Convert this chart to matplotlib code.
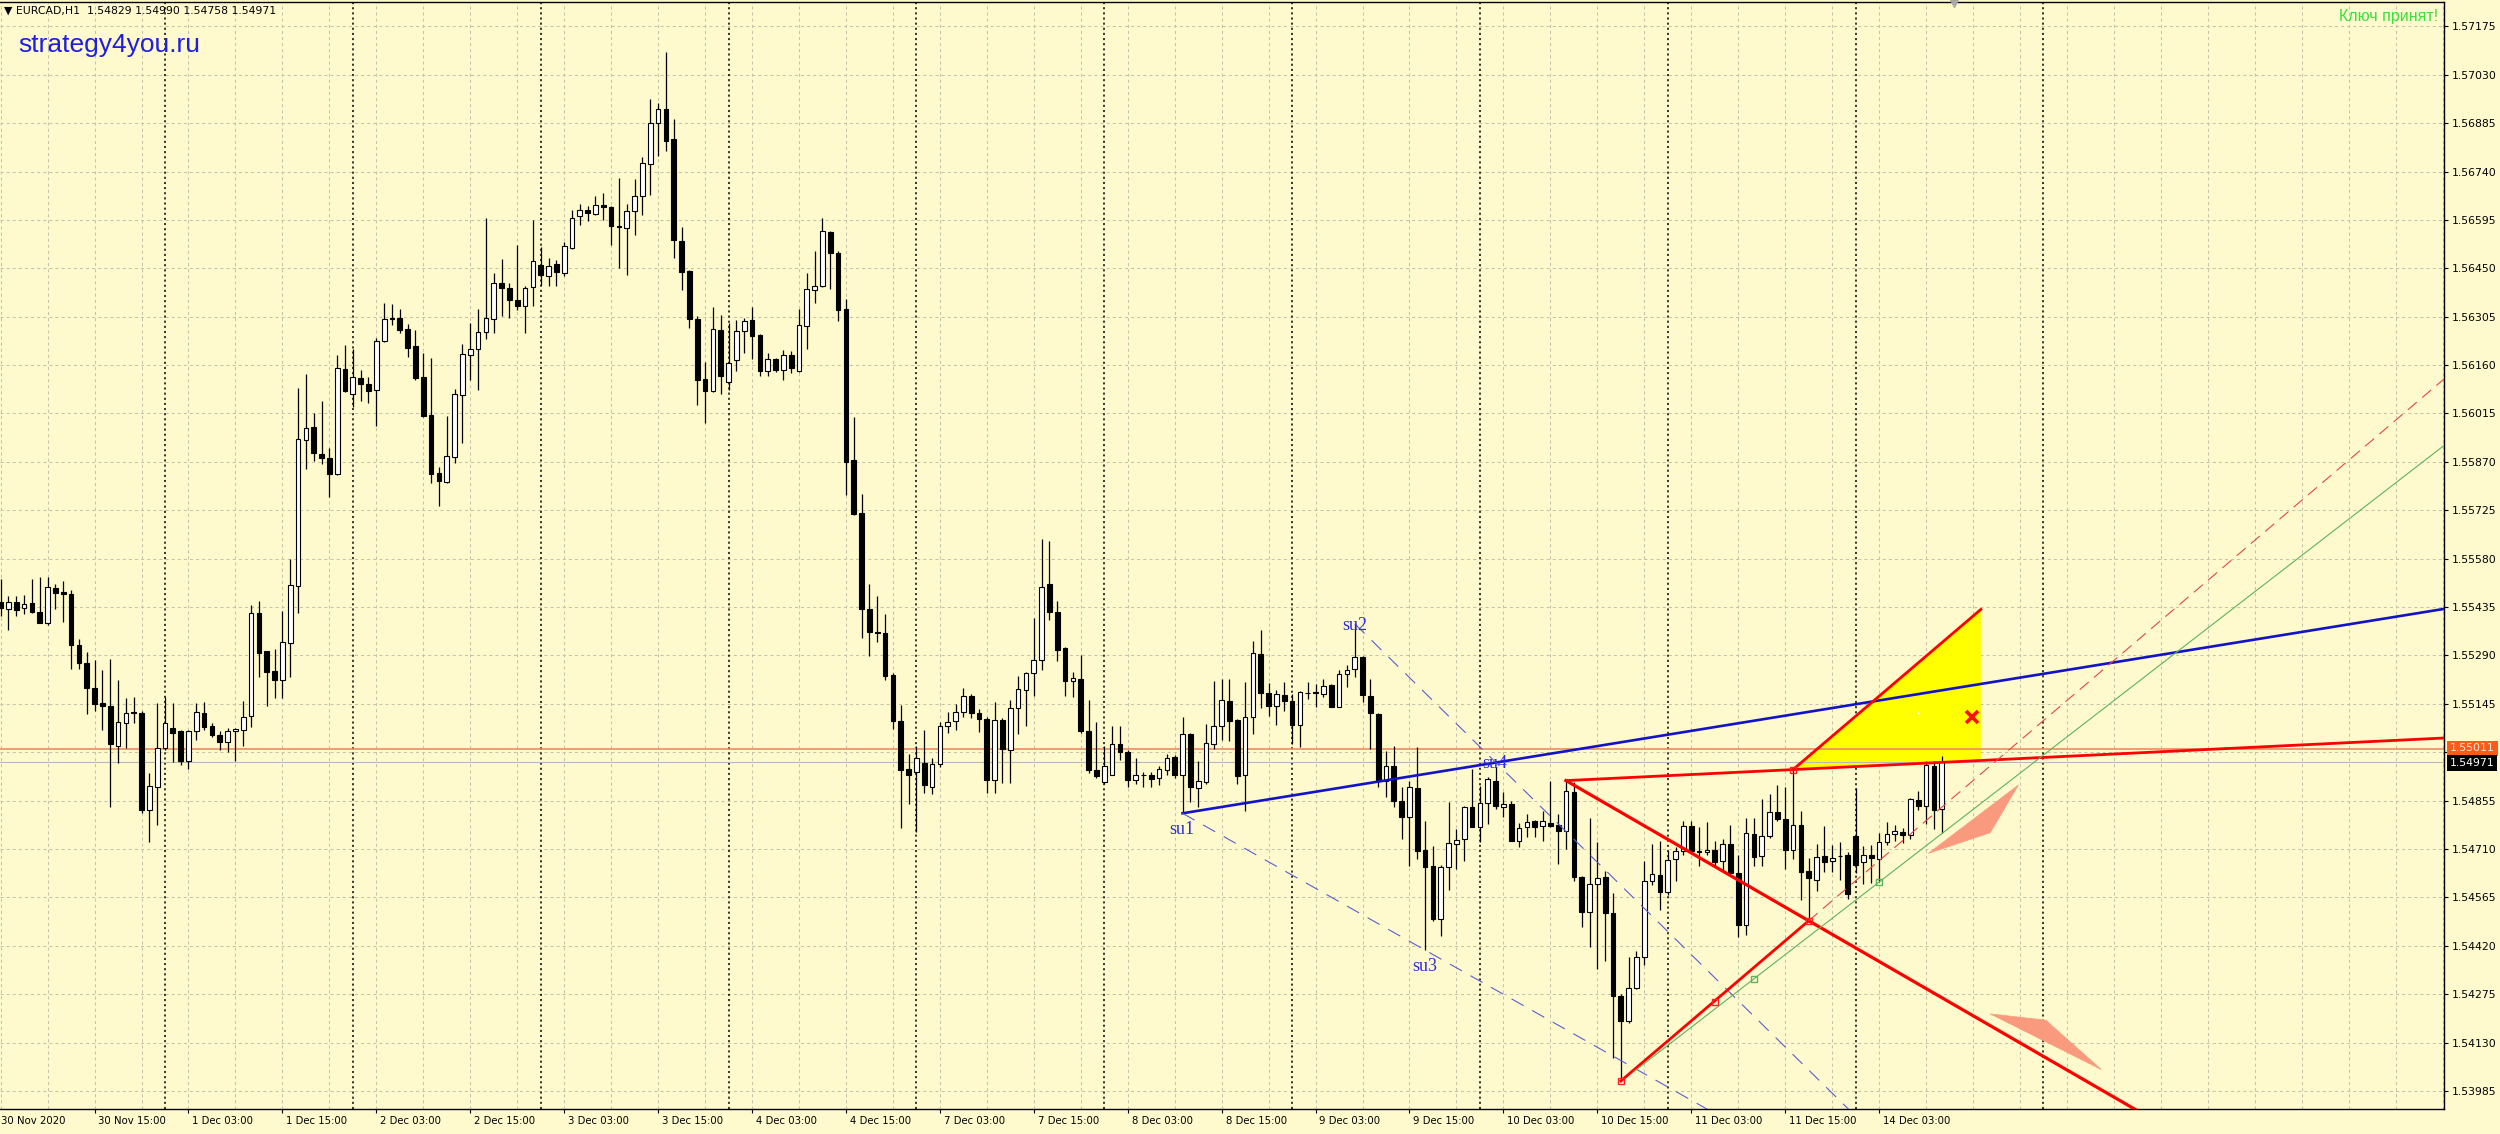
import numpy as np
import matplotlib
matplotlib.use("Agg")
import matplotlib.pyplot as plt
import matplotlib.transforms as mtransforms
from matplotlib.patches import Polygon

plt.rcParams['lines.scale_dashes'] = False

# EURCAD H1 - bar number = hours since 30 Nov 2020 00:00 (24 bars per trading day)
first_bar = 3

opens = [1.55449, 1.55429, 1.55450, 1.55433, 1.55446, 1.55421, 1.55388, 1.55491, 1.55480, 1.55474,
         1.55320, 1.55268, 1.55192, 1.55147, 1.55138, 1.55020, 1.55088, 1.55121, 1.55119, 1.54828,
         1.54896, 1.55012, 1.55074, 1.55063, 1.54975, 1.55063, 1.55119, 1.55080, 1.55051, 1.55031,
         1.55063, 1.55067, 1.55110, 1.55418, 1.55302, 1.55243, 1.55217, 1.55328, 1.55497, 1.55937,
         1.55976, 1.55895, 1.55882, 1.55833, 1.56149, 1.56072, 1.56120, 1.56103, 1.56084, 1.56233,
         1.56300, 1.56300, 1.56267, 1.56217, 1.56123, 1.56011, 1.55838, 1.55811, 1.55886, 1.56071,
         1.56191, 1.56208, 1.56259, 1.56298, 1.56406, 1.56391, 1.56354, 1.56336, 1.56394, 1.56459,
         1.56426, 1.56464, 1.56436, 1.56511, 1.56606, 1.56624, 1.56614, 1.56639, 1.56633, 1.56576,
         1.56571, 1.56621, 1.56668, 1.56764, 1.56886, 1.56928, 1.56836, 1.56533, 1.56441, 1.56299,
         1.56119, 1.56081, 1.56266, 1.56108, 1.56174, 1.56261, 1.56296, 1.56250, 1.56143, 1.56178,
         1.56146, 1.56191, 1.56141, 1.56276, 1.56386, 1.56396, 1.56559, 1.56496, 1.56327, 1.55875,
         1.55717, 1.55429, 1.55359, 1.55356, 1.55232, 1.55095, 1.54951, 1.54941, 1.54968, 1.54897,
         1.54964, 1.55078, 1.55094, 1.55121, 1.55169, 1.55118, 1.55101, 1.54917, 1.55098, 1.55007,
         1.55134, 1.55185, 1.55236, 1.55275, 1.55504, 1.55419, 1.55312, 1.55212, 1.55219, 1.55065,
         1.54947, 1.54911, 1.54933, 1.55024, 1.55000, 1.54917, 1.54933, 1.54933, 1.54924, 1.54947,
         1.54987, 1.54931, 1.55054, 1.54893, 1.54911, 1.55024, 1.55078, 1.55155, 1.55097, 1.54933,
         1.55107, 1.55293, 1.55177, 1.55140, 1.55173, 1.55153, 1.55082, 1.55178, 1.55179, 1.55175,
         1.55200, 1.55137, 1.55233, 1.55250, 1.55285, 1.55170, 1.55115, 1.54915, 1.54960, 1.54855,
         1.54805, 1.54893, 1.54707, 1.54660, 1.54500, 1.54657, 1.54725, 1.54740, 1.54837, 1.54775,
         1.54847, 1.54915, 1.54837, 1.54845, 1.54735, 1.54775, 1.54795, 1.54780, 1.54787, 1.54782,
         1.54763, 1.54880, 1.54627, 1.54520, 1.54605, 1.54625, 1.54517, 1.54270, 1.54195, 1.54295,
         1.54385, 1.54613, 1.54633, 1.54581, 1.54681, 1.54705, 1.54778, 1.54703, 1.54701, 1.54708,
         1.54675, 1.54725, 1.54638, 1.54481, 1.54755, 1.54688, 1.54748, 1.54820, 1.54801, 1.54708,
         1.54783, 1.54643, 1.54618, 1.54688, 1.54675, 1.54690, 1.54691, 1.54748, 1.54671, 1.54693,
         1.54681, 1.54731, 1.54755, 1.54761, 1.54751, 1.54858, 1.54838, 1.54958, 1.54829]

highs = [1.55520, 1.55469, 1.55467, 1.55471, 1.55520, 1.55525, 1.55525, 1.55505, 1.55512, 1.55486,
         1.55339, 1.55300, 1.55275, 1.55245, 1.55279, 1.55215, 1.55164, 1.55167, 1.55125, 1.54939,
         1.55147, 1.55167, 1.55147, 1.55068, 1.55068, 1.55147, 1.55151, 1.55088, 1.55063, 1.55072,
         1.55074, 1.55153, 1.55441, 1.55454, 1.55302, 1.55309, 1.55424, 1.55579, 1.56092, 1.56134,
         1.56016, 1.56053, 1.55911, 1.56191, 1.56219, 1.56208, 1.56146, 1.56125, 1.56242, 1.56346,
         1.56343, 1.56328, 1.56283, 1.56264, 1.56196, 1.56181, 1.55854, 1.56008, 1.56088, 1.56224,
         1.56286, 1.56328, 1.56601, 1.56436, 1.56478, 1.56406, 1.56521, 1.56398, 1.56594, 1.56514,
         1.56481, 1.56474, 1.56528, 1.56624, 1.56644, 1.56636, 1.56666, 1.56676, 1.56636, 1.56721,
         1.56644, 1.56718, 1.56784, 1.56958, 1.56944, 1.57098, 1.56896, 1.56574, 1.56446, 1.56306,
         1.56168, 1.56334, 1.56311, 1.56286, 1.56296, 1.56301, 1.56334, 1.56254, 1.56196, 1.56181,
         1.56204, 1.56201, 1.56328, 1.56436, 1.56501, 1.56601, 1.56561, 1.56501, 1.56357, 1.56005,
         1.55774, 1.55504, 1.55469, 1.55413, 1.55236, 1.55141, 1.54995, 1.55018, 1.55067, 1.54984,
         1.55091, 1.55121, 1.55145, 1.55192, 1.55174, 1.55131, 1.55105, 1.55152, 1.55102, 1.55156,
         1.55228, 1.55241, 1.55402, 1.55640, 1.55634, 1.55453, 1.55315, 1.55239, 1.55292, 1.55158,
         1.55091, 1.55018, 1.55078, 1.55078, 1.55008, 1.54982, 1.54941, 1.54941, 1.54960, 1.54995,
         1.54991, 1.55105, 1.55058, 1.54974, 1.55085, 1.55212, 1.55218, 1.55220, 1.55100, 1.55210,
         1.55332, 1.55365, 1.55207, 1.55185, 1.55210, 1.55175, 1.55182, 1.55210, 1.55203, 1.55220,
         1.55203, 1.55245, 1.55260, 1.55385, 1.55287, 1.55220, 1.55117, 1.55005, 1.55020, 1.54895,
         1.54915, 1.55015, 1.54793, 1.54720, 1.54663, 1.54850, 1.54770, 1.54839, 1.54950, 1.54900,
         1.54925, 1.54955, 1.54880, 1.54855, 1.54787, 1.54815, 1.54797, 1.54823, 1.54915, 1.54815,
         1.54915, 1.54910, 1.54630, 1.54803, 1.54730, 1.54645, 1.54577, 1.54277, 1.54385, 1.54405,
         1.54675, 1.54725, 1.54733, 1.54703, 1.54715, 1.54795, 1.54795, 1.54775, 1.54791, 1.54733,
         1.54741, 1.54781, 1.54691, 1.54803, 1.54803, 1.54861, 1.54875, 1.54901, 1.54895, 1.54948,
         1.54825, 1.54683, 1.54725, 1.54778, 1.54723, 1.54731, 1.54701, 1.54893, 1.54718, 1.54723,
         1.54758, 1.54791, 1.54781, 1.54773, 1.54863, 1.54883, 1.54975, 1.54973, 1.54990]

lows = [1.55407, 1.55367, 1.55409, 1.55415, 1.55418, 1.55386, 1.55381, 1.55429, 1.55390, 1.55249,
        1.55249, 1.55114, 1.55125, 1.55068, 1.54837, 1.54967, 1.55012, 1.55088, 1.54817, 1.54730,
        1.54781, 1.55006, 1.54970, 1.54961, 1.54950, 1.55038, 1.55068, 1.55046, 1.55006, 1.55001,
        1.54973, 1.55018, 1.55076, 1.55226, 1.55139, 1.55162, 1.55162, 1.55226, 1.55418, 1.55850,
        1.55873, 1.55864, 1.55764, 1.55830, 1.56078, 1.56033, 1.56053, 1.56046, 1.55979, 1.56230,
        1.56281, 1.56256, 1.56185, 1.56114, 1.56004, 1.55806, 1.55738, 1.55808, 1.55866, 1.55926,
        1.56116, 1.56084, 1.56238, 1.56256, 1.56308, 1.56301, 1.56324, 1.56256, 1.56336, 1.56401,
        1.56398, 1.56398, 1.56426, 1.56508, 1.56581, 1.56591, 1.56611, 1.56596, 1.56521, 1.56451,
        1.56431, 1.56551, 1.56611, 1.56671, 1.56788, 1.56801, 1.56481, 1.56384, 1.56271, 1.56041,
        1.55988, 1.56078, 1.56074, 1.56086, 1.56141, 1.56196, 1.56178, 1.56128, 1.56128, 1.56138,
        1.56114, 1.56136, 1.56138, 1.56208, 1.56346, 1.56394, 1.56388, 1.56291, 1.55772, 1.55710,
        1.55342, 1.55288, 1.55330, 1.55216, 1.55071, 1.54773, 1.54844, 1.54760, 1.54877, 1.54874,
        1.54957, 1.55058, 1.55067, 1.55105, 1.55102, 1.55062, 1.54877, 1.54877, 1.54907, 1.54907,
        1.55054, 1.55078, 1.55169, 1.55245, 1.55397, 1.55272, 1.55169, 1.55165, 1.55058, 1.54937,
        1.54924, 1.54904, 1.54931, 1.54978, 1.54897, 1.54904, 1.54897, 1.54897, 1.54901, 1.54933,
        1.54924, 1.54817, 1.54850, 1.54837, 1.54904, 1.55011, 1.55038, 1.55035, 1.54905, 1.54825,
        1.55055, 1.55132, 1.55110, 1.55083, 1.55125, 1.55025, 1.55015, 1.55160, 1.55135, 1.55167,
        1.55135, 1.55135, 1.55195, 1.55225, 1.55150, 1.55010, 1.54895, 1.54865, 1.54835, 1.54740,
        1.54660, 1.54680, 1.54407, 1.54495, 1.54450, 1.54587, 1.54650, 1.54675, 1.54775, 1.54730,
        1.54785, 1.54830, 1.54805, 1.54733, 1.54717, 1.54747, 1.54745, 1.54735, 1.54777, 1.54665,
        1.54710, 1.54615, 1.54475, 1.54417, 1.54350, 1.54375, 1.54085, 1.54015, 1.54190, 1.54290,
        1.54363, 1.54601, 1.54528, 1.54573, 1.54615, 1.54693, 1.54698, 1.54658, 1.54691, 1.54658,
        1.54645, 1.54635, 1.54445, 1.54451, 1.54658, 1.54658, 1.54743, 1.54793, 1.54651, 1.54681,
        1.54558, 1.54495, 1.54583, 1.54641, 1.54641, 1.54618, 1.54561, 1.54638, 1.54605, 1.54608,
        1.54611, 1.54723, 1.54733, 1.54728, 1.54741, 1.54828, 1.54785, 1.54771, 1.54758]

closes = [1.55433, 1.55449, 1.55427, 1.55444, 1.55421, 1.55388, 1.55494, 1.55478, 1.55474, 1.55320,
          1.55268, 1.55192, 1.55145, 1.55139, 1.55026, 1.55091, 1.55117, 1.55119, 1.54828, 1.54899,
          1.55014, 1.55088, 1.55057, 1.54973, 1.55063, 1.55121, 1.55076, 1.55051, 1.55031, 1.55063,
          1.55071, 1.55106, 1.55418, 1.55297, 1.55241, 1.55215, 1.55330, 1.55500, 1.55940, 1.55973,
          1.55897, 1.55882, 1.55835, 1.56151, 1.56081, 1.56123, 1.56103, 1.56081, 1.56233, 1.56298,
          1.56297, 1.56266, 1.56211, 1.56121, 1.56006, 1.55834, 1.55814, 1.55888, 1.56073, 1.56194,
          1.56208, 1.56260, 1.56301, 1.56406, 1.56391, 1.56356, 1.56338, 1.56391, 1.56471, 1.56430,
          1.56456, 1.56438, 1.56516, 1.56601, 1.56624, 1.56616, 1.56639, 1.56634, 1.56576, 1.56574,
          1.56621, 1.56666, 1.56766, 1.56886, 1.56928, 1.56831, 1.56536, 1.56439, 1.56298, 1.56116,
          1.56081, 1.56269, 1.56128, 1.56166, 1.56263, 1.56293, 1.56248, 1.56141, 1.56178, 1.56144,
          1.56191, 1.56151, 1.56281, 1.56388, 1.56398, 1.56563, 1.56496, 1.56326, 1.55871, 1.55714,
          1.55429, 1.55359, 1.55356, 1.55229, 1.55094, 1.54947, 1.54933, 1.54984, 1.54901, 1.54964,
          1.55078, 1.55091, 1.55121, 1.55169, 1.55118, 1.55101, 1.54917, 1.55098, 1.55011, 1.55134,
          1.55188, 1.55236, 1.55275, 1.55496, 1.55419, 1.55306, 1.55212, 1.55221, 1.55065, 1.54947,
          1.54928, 1.54960, 1.55024, 1.55000, 1.54917, 1.54933, 1.54931, 1.54920, 1.54951, 1.54982,
          1.54931, 1.55054, 1.54897, 1.54915, 1.55027, 1.55078, 1.55156, 1.55095, 1.54930, 1.55107,
          1.55297, 1.55177, 1.55140, 1.55175, 1.55153, 1.55082, 1.55180, 1.55176, 1.55176, 1.55197,
          1.55137, 1.55235, 1.55247, 1.55285, 1.55173, 1.55117, 1.54915, 1.54960, 1.54855, 1.54805,
          1.54897, 1.54705, 1.54657, 1.54500, 1.54657, 1.54727, 1.54737, 1.54837, 1.54777, 1.54847,
          1.54920, 1.54840, 1.54845, 1.54735, 1.54773, 1.54790, 1.54777, 1.54793, 1.54780, 1.54763,
          1.54885, 1.54627, 1.54520, 1.54605, 1.54623, 1.54517, 1.54270, 1.54195, 1.54295, 1.54387,
          1.54615, 1.54635, 1.54581, 1.54678, 1.54705, 1.54778, 1.54703, 1.54701, 1.54708, 1.54671,
          1.54725, 1.54638, 1.54481, 1.54758, 1.54685, 1.54748, 1.54820, 1.54801, 1.54708, 1.54783,
          1.54641, 1.54623, 1.54685, 1.54671, 1.54683, 1.54688, 1.54575, 1.54661, 1.54693, 1.54683,
          1.54731, 1.54755, 1.54763, 1.54751, 1.54861, 1.54838, 1.54961, 1.54828, 1.54971]

price_ticks = [1.53985, 1.54130, 1.54275, 1.54420, 1.54565, 1.54710, 1.54855, 1.55000,
               1.55145, 1.55290, 1.55435, 1.55580, 1.55725, 1.55870, 1.56015, 1.56160,
               1.56305, 1.56450, 1.56595, 1.56740, 1.56885, 1.57030, 1.57175]
hidden_tick = 1.55000  # covered by the price tags

time_label_bars = [15, 27, 39, 51, 63, 75, 87, 99, 111, 123, 135, 147, 159, 171,
                   183, 195, 207, 219, 231, 243]
time_labels = ["30 Nov 15:00", "1 Dec 03:00", "1 Dec 15:00", "2 Dec 03:00", "2 Dec 15:00",
               "3 Dec 03:00", "3 Dec 15:00", "4 Dec 03:00", "4 Dec 15:00", "7 Dec 03:00",
               "7 Dec 15:00", "8 Dec 03:00", "8 Dec 15:00", "9 Dec 03:00", "9 Dec 15:00",
               "10 Dec 03:00", "10 Dec 15:00", "11 Dec 03:00", "11 Dec 15:00", "14 Dec 03:00"]
day_start_bars = [24, 48, 72, 96, 120, 144, 168, 192, 216, 240, 264]

level_line = 1.55011
bid_price = 1.54971

# trend objects: (bar, price) anchors
blue_ray = [(154, 1.54817), (194, 1.54969)]
blue_dash_1 = [(154, 1.54817), (185, 1.54407)]
blue_dash_2 = [(176, 1.55385), (194, 1.54970)]
red_ray_flat = [(203, 1.54915), (232, 1.54948)]
red_ray_down = [(203, 1.54915), (234, 1.54495)]
red_seg_up = [(210, 1.54015), (234, 1.54495)]
red_seg_top = [(232, 1.54948), (256, 1.55428)]
green_ray = [(227, 1.54321), (243, 1.54611)]
green_start = 211.7
red_squares = [(210, 1.54015), (222, 1.54253), (234, 1.54495), (232, 1.54948)]
green_squares = [(227, 1.54321), (243, 1.54611)]
yellow_tri = [(232, 1.54948), (256, 1.55428), (256, 1.54975)]
arrow_up = [(249.3, 1.54697), (260.8, 1.54902), (257.2, 1.54759)]
arrow_down = [(257.2, 1.54216), (264.3, 1.54197), (271.4, 1.54049)]
cross_mark = (254.9, 1.55106)
su_labels = ["su1", "su2", "su3", "su4"]
su_pos = [(153.9, 1.54769), (176.0, 1.55381), (184.9, 1.54359), (193.9, 1.54967)]

bg = "#FFFACD"
xmin, xmax = 2.92, 315.17
ymin, ymax = 1.53931, 1.57248

fig = plt.figure(figsize=(25, 11.34), dpi=100, facecolor=bg)
ax = fig.add_axes([0, 25 / 1134, 2444 / 2500, 1107 / 1134])
ax.set_facecolor(bg)
ax.set_xlim(xmin, xmax)
ax.set_ylim(ymin, ymax)

# grid + day separators
for p in price_ticks:
    ax.axhline(p, color="#C6C3AA", lw=0.75, dashes=(2.2, 2.2), zorder=1)
for b in range(3, 316, 6):
    ax.axvline(b, color="#C6C3AA", lw=0.75, dashes=(2.2, 2.2), zorder=1)
for b in day_start_bars:
    ax.axvline(b, color="black", lw=1.1, dashes=(1.5, 2.2), zorder=1.2)

# yellow zone
ax.add_patch(Polygon(yellow_tri, closed=True, fc="#FFFF00", ec="none", zorder=2))

ax.axhline(level_line, color="#F08A62", lw=1.2, zorder=2.5)
ax.axhline(bid_price, color="#B8B8B8", lw=0.8, zorder=2.5)

# candles
x = np.arange(first_bar, first_bar + len(opens))
o = np.array(opens)
h = np.array(highs)
l = np.array(lows)
c = np.array(closes)
up = c >= o
ax.vlines(x, l, h, color="black", lw=0.9, zorder=3)
bot = np.minimum(o, c)
hgt = np.maximum(np.abs(c - o), 0.00002)
ax.bar(x[up], hgt[up], bottom=bot[up], width=0.6, color="white", edgecolor="black", lw=0.8, zorder=4)
ax.bar(x[~up], hgt[~up], bottom=bot[~up], width=0.6, color="black", edgecolor="black", lw=0.8, zorder=4)


def ray(pts, x_start=None, x_end=xmax + 5):
    (x1, y1), (x2, y2) = pts
    k = (y2 - y1) / (x2 - x1)
    xs = x1 if x_start is None else x_start
    return [xs, x_end], [y1 + k * (xs - x1), y1 + k * (x_end - x1)]


xs, ys = ray(blue_ray)
ax.plot(xs, ys, color="#1212C8", lw=1.9, zorder=5)
for pts in (blue_dash_1, blue_dash_2):
    xs, ys = ray(pts)
    ax.plot(xs, ys, color="#5C5CD2", lw=0.8, dashes=(10, 7), zorder=5)

xs, ys = ray(red_ray_flat)
ax.plot(xs, ys, color="#FF0000", lw=2.0, zorder=5)
xs, ys = ray(red_ray_down)
ax.plot(xs, ys, color="#FF0000", lw=2.3, zorder=5)
ax.plot([p[0] for p in red_seg_up], [p[1] for p in red_seg_up], color="#FF0000", lw=2.0, zorder=5)
xs, ys = ray(red_seg_up, x_start=red_seg_up[1][0])
ax.plot(xs, ys, color="#E04848", lw=0.8, dashes=(8.5, 5), zorder=5)
ax.plot([p[0] for p in red_seg_top], [p[1] for p in red_seg_top], color="#FF0000", lw=2.0, zorder=5)
xs, ys = ray(green_ray, x_start=green_start)
ax.plot(xs, ys, color="#5DB35D", lw=0.8, zorder=5)

ax.plot([p[0] for p in red_squares], [p[1] for p in red_squares], ls="none", marker="s",
        ms=4.5, mfc="none", mec="#FF2020", mew=1.0, zorder=6)
ax.plot([p[0] for p in green_squares], [p[1] for p in green_squares], ls="none", marker="s",
        ms=4.5, mfc="none", mec="#5DB35D", mew=1.0, zorder=6)

for poly in (arrow_up, arrow_down):
    ax.add_patch(Polygon(poly, closed=True, fc="#F99A7E", ec="#F99A7E", lw=0.5, zorder=5))

ax.plot([cross_mark[0]], [cross_mark[1]], marker="x", ms=8, mew=2.6, color="#FF1010", zorder=6)
ax.plot([248.0], [1.55118], marker="o", ms=1.5, color="white", mew=0, zorder=6)

for t, (bx, py) in zip(su_labels, su_pos):
    ax.text(bx, py, t, color="#2A2AE0", fontsize=13, family="Liberation Serif",
            ha="center", va="center", zorder=7)

# axes styling
ax.spines["left"].set_visible(False)
for side in ("right", "bottom", "top"):
    ax.spines[side].set_color("black")
    ax.spines[side].set_linewidth(1.0)

ax.yaxis.tick_right()
ax.set_yticks(price_ticks)
ax.set_yticklabels(["" if abs(p - hidden_tick) < 1e-7 else f"{p:.5f}" for p in price_ticks])
ax.tick_params(axis="y", direction="out", length=3, width=0.8, pad=2.5, labelsize=7.8,
               colors="black")
ax.set_xticks(time_label_bars)
ax.set_xticklabels([])
ax.tick_params(axis="x", direction="out", length=3, width=0.8)

tb = mtransforms.blended_transform_factory(ax.transData, ax.transAxes)
ax.text(3.1, -0.0105, "30 Nov 2020", transform=tb, fontsize=7.3, ha="left", va="center")
for b, t in zip(time_label_bars, time_labels):
    ax.text(b + 0.5, -0.0105, t, transform=tb, fontsize=7.3, ha="left", va="center")

ta = mtransforms.blended_transform_factory(ax.transAxes, ax.transData)
ax.text(1.0025, level_line + 0.00001, f"{level_line:.5f}", transform=ta, fontsize=7.8,
        color="#FFE6D6", va="center", ha="left",
        bbox=dict(boxstyle="square,pad=0.25", fc="#FF5A1E", ec="none"))
ax.text(1.0025, bid_price - 0.00003, f"{bid_price:.5f}", transform=ta, fontsize=7.8,
        color="white", va="center", ha="left",
        bbox=dict(boxstyle="square,pad=0.25", fc="black", ec="none"))

# chart shift marker
ax.plot([252.6], [1.0], transform=tb, marker="v", ms=7, color="#A8A8A8", clip_on=False, zorder=8)

fig.text(4 / 2500, 1 - 11 / 1134, "\u25bc EURCAD,H1  1.54829 1.54990 1.54758 1.54971",
         fontsize=7.8, family="DejaVu Sans", va="center", ha="left")
fig.text(18 / 2500, 1 - 45 / 1134, "strategy4you.ru", fontsize=19, family="Liberation Sans",
         color="#1E1EE6", va="center", ha="left")
fig.text(2438 / 2500, 1 - 17 / 1134, "Ключ принят!", fontsize=11.5, family="Liberation Sans",
         color="#3ADF3A", va="center", ha="right")

fig.savefig("out.png", dpi=100, facecolor=bg)
